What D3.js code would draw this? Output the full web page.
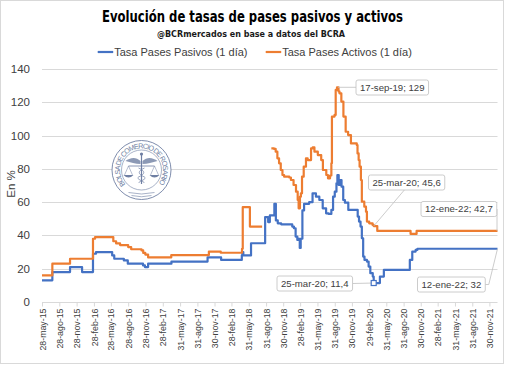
<!DOCTYPE html>
<html>
<head>
<meta charset="utf-8">
<script src="https://cdn.jsdelivr.net/npm/d3@7/dist/d3.min.js"></script>
<style>
  html, body { margin: 0; padding: 0; background: #fff; }
  svg { display: block; }
</style>
</head>
<body>
<svg id="chart" width="505" height="366"></svg>
<script>
// ---------------- DATA ----------------
const title = "Evolución de tasas de pases pasivos y activos";
const subtitle = "@BCRmercados en base a datos del BCRA";
const seriesNames = ["Tasa Pases Pasivos (1 día)", "Tasa Pases Activos (1 día)"];
const yTicks = [0, 20, 40, 60, 80, 100, 120, 140];
const xTickLabels = ["28-may-15","28-ago-15","28-nov-15","28-feb-16","28-may-16","28-ago-16","28-nov-16",
  "28-feb-17","31-may-17","31-ago-17","30-nov-17","28-feb-18","31-may-18","31-ago-18","30-nov-18",
  "28-feb-19","31-may-19","31-ago-19","30-nov-19","29-feb-20","31-may-20","31-ago-20","30-nov-20",
  "28-feb-21","31-may-21","31-ago-21","30-nov-21"];
const xTickDates = ["2015-05-28","2015-08-28","2015-11-28","2016-02-28","2016-05-28","2016-08-28","2016-11-28",
  "2017-02-28","2017-05-31","2017-08-31","2017-11-30","2018-02-28","2018-05-31","2018-08-31","2018-11-30",
  "2019-02-28","2019-05-31","2019-08-31","2019-11-30","2020-02-29","2020-05-31","2020-08-31","2020-11-30",
  "2021-02-28","2021-05-31","2021-08-31","2021-11-30"];
const xDomain = ["2015-05-28", "2022-01-12"];

const pasivosDates = ["2015-05-28","2015-07-22","2015-10-24","2015-12-27","2016-02-23","2016-03-10","2016-06-04",
  "2016-06-15","2016-08-05","2016-08-26","2016-11-15","2016-11-25","2016-12-12","2017-04-15","2017-10-24",
  "2018-01-04","2018-04-24","2018-04-27","2018-05-02","2018-06-12","2018-08-26","2018-09-11","2018-09-20",
  "2018-10-14","2018-10-22","2018-11-01","2018-11-19","2019-01-17","2019-01-26","2019-02-04","2019-02-13",
  "2019-02-19","2019-02-26","2019-03-03","2019-03-12","2019-03-21","2019-04-17","2019-05-05","2019-05-23",
  "2019-06-10","2019-06-28","2019-07-16","2019-07-29","2019-08-13","2019-08-22","2019-08-31","2019-09-09",
  "2019-09-14","2019-09-21","2019-09-27","2019-10-06","2019-10-15","2019-10-24","2019-11-11","2019-12-31",
  "2020-01-07","2020-01-15","2020-01-22","2020-01-29","2020-02-05","2020-02-18","2020-02-27","2020-03-07",
  "2020-03-20","2020-03-25","2020-04-27","2020-05-18","2020-10-03","2020-10-16","2020-11-03","2020-11-12",
  "2022-01-12"];
const pasivosValues = [13,18,21,18,29,30,28,
  26,25,23,22,21,23,24.3,26.8,
  25.3,28,30,28,35.3,51,48,52,
  59,49,47.3,46.7,45.3,44.3,39.3,37.3,
  38,32.5,38,55,59,60,65.3,63.3,
  61.3,56.3,53.3,52.9,55.3,63.3,66.3,71.3,
  76.3,70.3,73.3,69.3,61.3,59.7,55.3,51.3,
  48.3,45.3,38.3,27.3,25.3,24.3,21.3,17.3,
  15.3,11.4,15.3,19.3,25.3,30.3,31.3,32,
  32];

const activosDates = ["2015-05-28","2015-07-22","2015-10-24","2016-02-23","2016-03-05","2016-06-10","2016-06-25",
  "2016-07-16","2016-08-28","2016-09-13","2016-11-07","2016-11-16","2016-11-27","2016-12-12","2017-04-14",
  "2017-10-31","2018-01-02","2018-04-25","2018-04-29","2018-06-06","2018-08-10","2018-08-11","2018-09-28",
  "2018-10-12","2018-10-21","2018-10-30","2018-11-08","2018-11-17","2018-11-26","2018-12-05","2019-01-01",
  "2019-01-10","2019-01-24","2019-02-06","2019-02-15","2019-02-20","2019-02-27","2019-03-04","2019-03-10",
  "2019-03-19","2019-03-31","2019-04-09","2019-04-27","2019-05-06","2019-05-15","2019-06-02","2019-06-20",
  "2019-06-29","2019-07-17","2019-07-26","2019-08-06","2019-08-13","2019-08-16","2019-08-30","2019-09-05",
  "2019-09-12","2019-09-20","2019-09-25","2019-10-05","2019-10-16","2019-10-28","2019-11-10","2019-11-25",
  "2019-12-26","2019-12-30","2020-01-05","2020-01-10","2020-01-17","2020-01-22","2020-02-04","2020-02-13",
  "2020-02-18","2020-03-01","2020-03-19","2020-03-25","2020-04-13","2020-10-07","2020-11-08","2022-01-12"];
const activosValues = [16,23,26,38,39,36.5,35.2,
  34.2,33,31.7,31,29.5,28.5,26.8,28.2,
  30.3,29.6,32,57,45.3,45.3,null,92.3,
  92,90.3,86.3,83.3,79.3,76.3,75.3,74.8,
  73.3,70.3,66.3,61.3,56.3,63.3,65.3,75.3,
  81.3,86.3,85.3,92.3,92.9,90.3,88.3,85.3,
  79.3,76.3,74.3,76,83.3,111.4,112.4,127.4,
  129,126.5,125.4,120.4,111.4,102.3,100.3,95.3,
  94.3,89.3,85.3,81.3,73.3,60.3,57.3,54.3,
  48.3,47.3,46.3,45.6,42.7,40.9,42.7,42.7];

// annotations
const annDates = ["2019-09-17", "2020-03-25", "2022-01-12", "2020-03-25", "2022-01-12"];
const annSeries = [1, 1, 1, 0, 0];
const annLabels = ["17-sep-19; 129", "25-mar-20; 45,6", "12-ene-22; 42,7", "25-mar-20; 11,4", "12-ene-22; 32"];

// ---------------- CHART ----------------
const colors = ["#4472C4", "#ED7D31"];
const parse = d3.timeParse("%Y-%m-%d");
const svg = d3.select("#chart");
const font = "'Liberation Sans', Arial, sans-serif";

svg.append("rect").attr("x", 0.5).attr("y", 0.5).attr("width", 503).attr("height", 363)
  .attr("fill", "#fff").attr("stroke", "#d9d9d9");

const x = d3.scaleTime().domain(xDomain.map(parse)).range([42, 497.5]);
const y = d3.scaleLinear().domain([0, 140]).range([302, 69]);

// gridlines
svg.append("g").selectAll("line").data(yTicks.filter(d => d > 0)).join("line")
  .attr("x1", 42).attr("x2", 497.5)
  .attr("y1", d => Math.round(y(d)) + 0.5).attr("y2", d => Math.round(y(d)) + 0.5)
  .attr("stroke", "#d9d9d9").attr("stroke-width", 1);

// y labels
svg.append("g").selectAll("text").data(yTicks).join("text")
  .attr("x", 30).attr("y", d => y(d)).attr("dy", "0.35em")
  .attr("text-anchor", "end").attr("font-family", font).attr("font-size", 11.5)
  .attr("fill", "#404040").text(d => d);

svg.append("text").attr("transform", "translate(15,184) rotate(-90)")
  .attr("text-anchor", "middle").attr("font-family", font).attr("font-size", 11.5)
  .attr("fill", "#404040").text("En %");

// x axis
const xAxis = d3.axisBottom(x).tickValues(xTickDates.map(parse)).tickSize(4).tickFormat((d, i) => xTickLabels[i]);
const gx = svg.append("g").attr("transform", "translate(0,302.5)").call(xAxis);
gx.select(".domain").attr("stroke", "#d9d9d9").attr("d", "M42,0H497.5");
gx.selectAll(".tick line").attr("stroke", "#d9d9d9");
gx.selectAll(".tick text")
  .attr("transform", "rotate(-90)")
  .attr("x", -6).attr("y", 0).attr("dy", "0.35em")
  .attr("text-anchor", "end")
  .attr("font-family", font).attr("font-size", 8.8).attr("fill", "#404040");

// logo (watermark)
const logo = svg.append("g").attr("transform", "translate(141.5,170)");
const lc = "#6f7fa3";
logo.append("circle").attr("r", 29.5).attr("fill", "#fff").attr("stroke", lc).attr("stroke-width", 0.9);
logo.append("circle").attr("r", 20).attr("fill", "none").attr("stroke", lc).attr("stroke-width", 0.6);
const rt = 21.5;
const a0 = -132 * Math.PI / 180, a1 = 132 * Math.PI / 180;
logo.append("defs").append("path").attr("id", "logoArc")
  .attr("d", `M${rt*Math.sin(a0)},${-rt*Math.cos(a0)} A${rt},${rt} 0 1 1 ${rt*Math.sin(a1)},${-rt*Math.cos(a1)}`);
logo.append("text").attr("font-family", font).attr("font-size", 7.2).attr("fill", lc)
  .append("textPath").attr("href", "#logoArc").attr("textLength", 97).attr("lengthAdjust", "spacing")
  .text("BOLSA DE COMERCIO DE ROSARIO");
// caduceus & scales
logo.append("line").attr("x1", 0).attr("x2", 0).attr("y1", -16).attr("y2", 14).attr("stroke", lc).attr("stroke-width", 1.2);
logo.append("circle").attr("cy", -16).attr("r", 1.6).attr("fill", lc);
logo.append("path").attr("d", "M-1,-9 C-6,-14 -12,-12 -16,-9 C-11,-8 -6,-6 -1,-6 Z M1,-9 C6,-14 12,-12 16,-9 C11,-8 6,-6 1,-6 Z")
  .attr("fill", lc).attr("opacity", 0.8);
logo.append("line").attr("x1", -13).attr("x2", 13).attr("y1", -4).attr("y2", -4).attr("stroke", lc).attr("stroke-width", 0.8);
logo.append("path").attr("d", "M-13,-4 L-17,5 M-13,-4 L-9,5 M13,-4 L17,5 M13,-4 L9,5").attr("stroke", lc).attr("stroke-width", 0.5).attr("fill", "none");
logo.append("path").attr("d", "M-18,5 Q-13,10 -8,5 Z M8,5 Q13,10 18,5 Z").attr("fill", lc);
logo.append("path").attr("d", "M-3,-2 C4,1 4,4 -3,7 C-6,9 2,11 3,13 M3,-2 C-4,1 -4,4 3,7 C6,9 -2,11 -3,13")
  .attr("stroke", lc).attr("stroke-width", 0.7).attr("fill", "none");
logo.append("path").attr("d", "M-13,22.5 Q0,25.5 13,22.5 M-10,25.5 Q0,28 10,25.5").attr("stroke", lc).attr("stroke-width", 0.6).attr("fill", "none");

// lines
const makeData = (ds, vs) => ds.map((d, i) => ({ date: parse(d), value: vs[i] }));
const series = [makeData(pasivosDates, pasivosValues), makeData(activosDates, activosValues)];
const line = d3.line().defined(d => d.value !== null).x(d => x(d.date)).y(d => y(d.value)).curve(d3.curveStepAfter);
series.forEach((s, i) => {
  svg.append("path").datum(s).attr("d", line).attr("fill", "none")
    .attr("stroke", colors[i]).attr("stroke-width", 2.2).attr("stroke-linejoin", "round");
});

// annotations: box layout [left, top]; leader lines from box to the data point
const boxPos = [[356, 80], [368.5, 175], [421, 201.5], [277, 276], [417.5, 277]];
const annG = svg.append("g");
annDates.forEach((ds, i) => {
  const px = x(parse(ds));
  const val = annLabels[i].split("; ")[1].replace(",", ".");
  const py = y(+val);
  const g = annG.append("g");
  const txt = g.append("text").attr("font-family", font).attr("font-size", 9.6).attr("fill", "#404040")
    .text(annLabels[i]);
  const w = txt.node().getComputedTextLength() + 8;
  const h = 15;
  const [bx, by] = boxPos[i];
  let leader;
  if (i === 0) leader = [[px, py], [bx, py]];
  else if (i === 1) leader = [[bx + w * 0.47, by + h], [px, py]];
  else if (i === 2) leader = [[bx + w, by + h / 2], [px - 0.5, by + h / 2], [px - 0.5, py]];
  else if (i === 3) leader = [[bx + w, by + h / 2], [px, py]];
  else leader = [[bx + w, by + h / 2], [bx + w + 3.5, by + h / 2], [px, py]];
  g.insert("path", "text").attr("d", d3.line()(leader)).attr("stroke", "#bfbfbf").attr("stroke-width", 0.8).attr("fill", "none");
  g.insert("rect", "text").attr("x", bx).attr("y", by).attr("width", w).attr("height", h)
    .attr("rx", 2).attr("fill", "#fff").attr("stroke", "#bfbfbf").attr("stroke-width", 0.8);
  txt.attr("x", bx + 4).attr("y", by + h / 2).attr("dy", "0.35em");
  if (i === 3) {
    g.append("rect").attr("x", px - 2.5).attr("y", py - 2.5).attr("width", 5).attr("height", 5)
      .attr("fill", "#fff").attr("stroke", colors[0]).attr("stroke-width", 1.2);
  }
});

// title
svg.append("text").attr("x", 252.5).attr("y", 21.5).attr("text-anchor", "middle")
  .attr("font-family", "'DejaVu Sans Condensed', 'DejaVu Sans', sans-serif").attr("font-weight", "bold")
  .attr("font-size", 15).attr("textLength", 301).attr("lengthAdjust", "spacingAndGlyphs")
  .attr("fill", "#000").text(title);
svg.append("text").attr("x", 251).attr("y", 36.5).attr("text-anchor", "middle")
  .attr("font-family", "'DejaVu Sans Condensed', 'DejaVu Sans', sans-serif").attr("font-weight", "bold")
  .attr("font-size", 9.5).attr("textLength", 188).attr("lengthAdjust", "spacingAndGlyphs")
  .attr("fill", "#1a1a1a").text(subtitle);

// legend
const legX = [97.7, 265.7];
seriesNames.forEach((n, i) => {
  svg.append("line").attr("x1", legX[i]).attr("x2", legX[i] + 15.5).attr("y1", 52).attr("y2", 52)
    .attr("stroke", colors[i]).attr("stroke-width", 2.2);
  svg.append("text").attr("x", legX[i] + 16.5).attr("y", 52).attr("dy", "0.35em")
    .attr("font-family", font).attr("font-size", 11).attr("fill", "#404040").text(n);
});
</script>
</body>
</html>
